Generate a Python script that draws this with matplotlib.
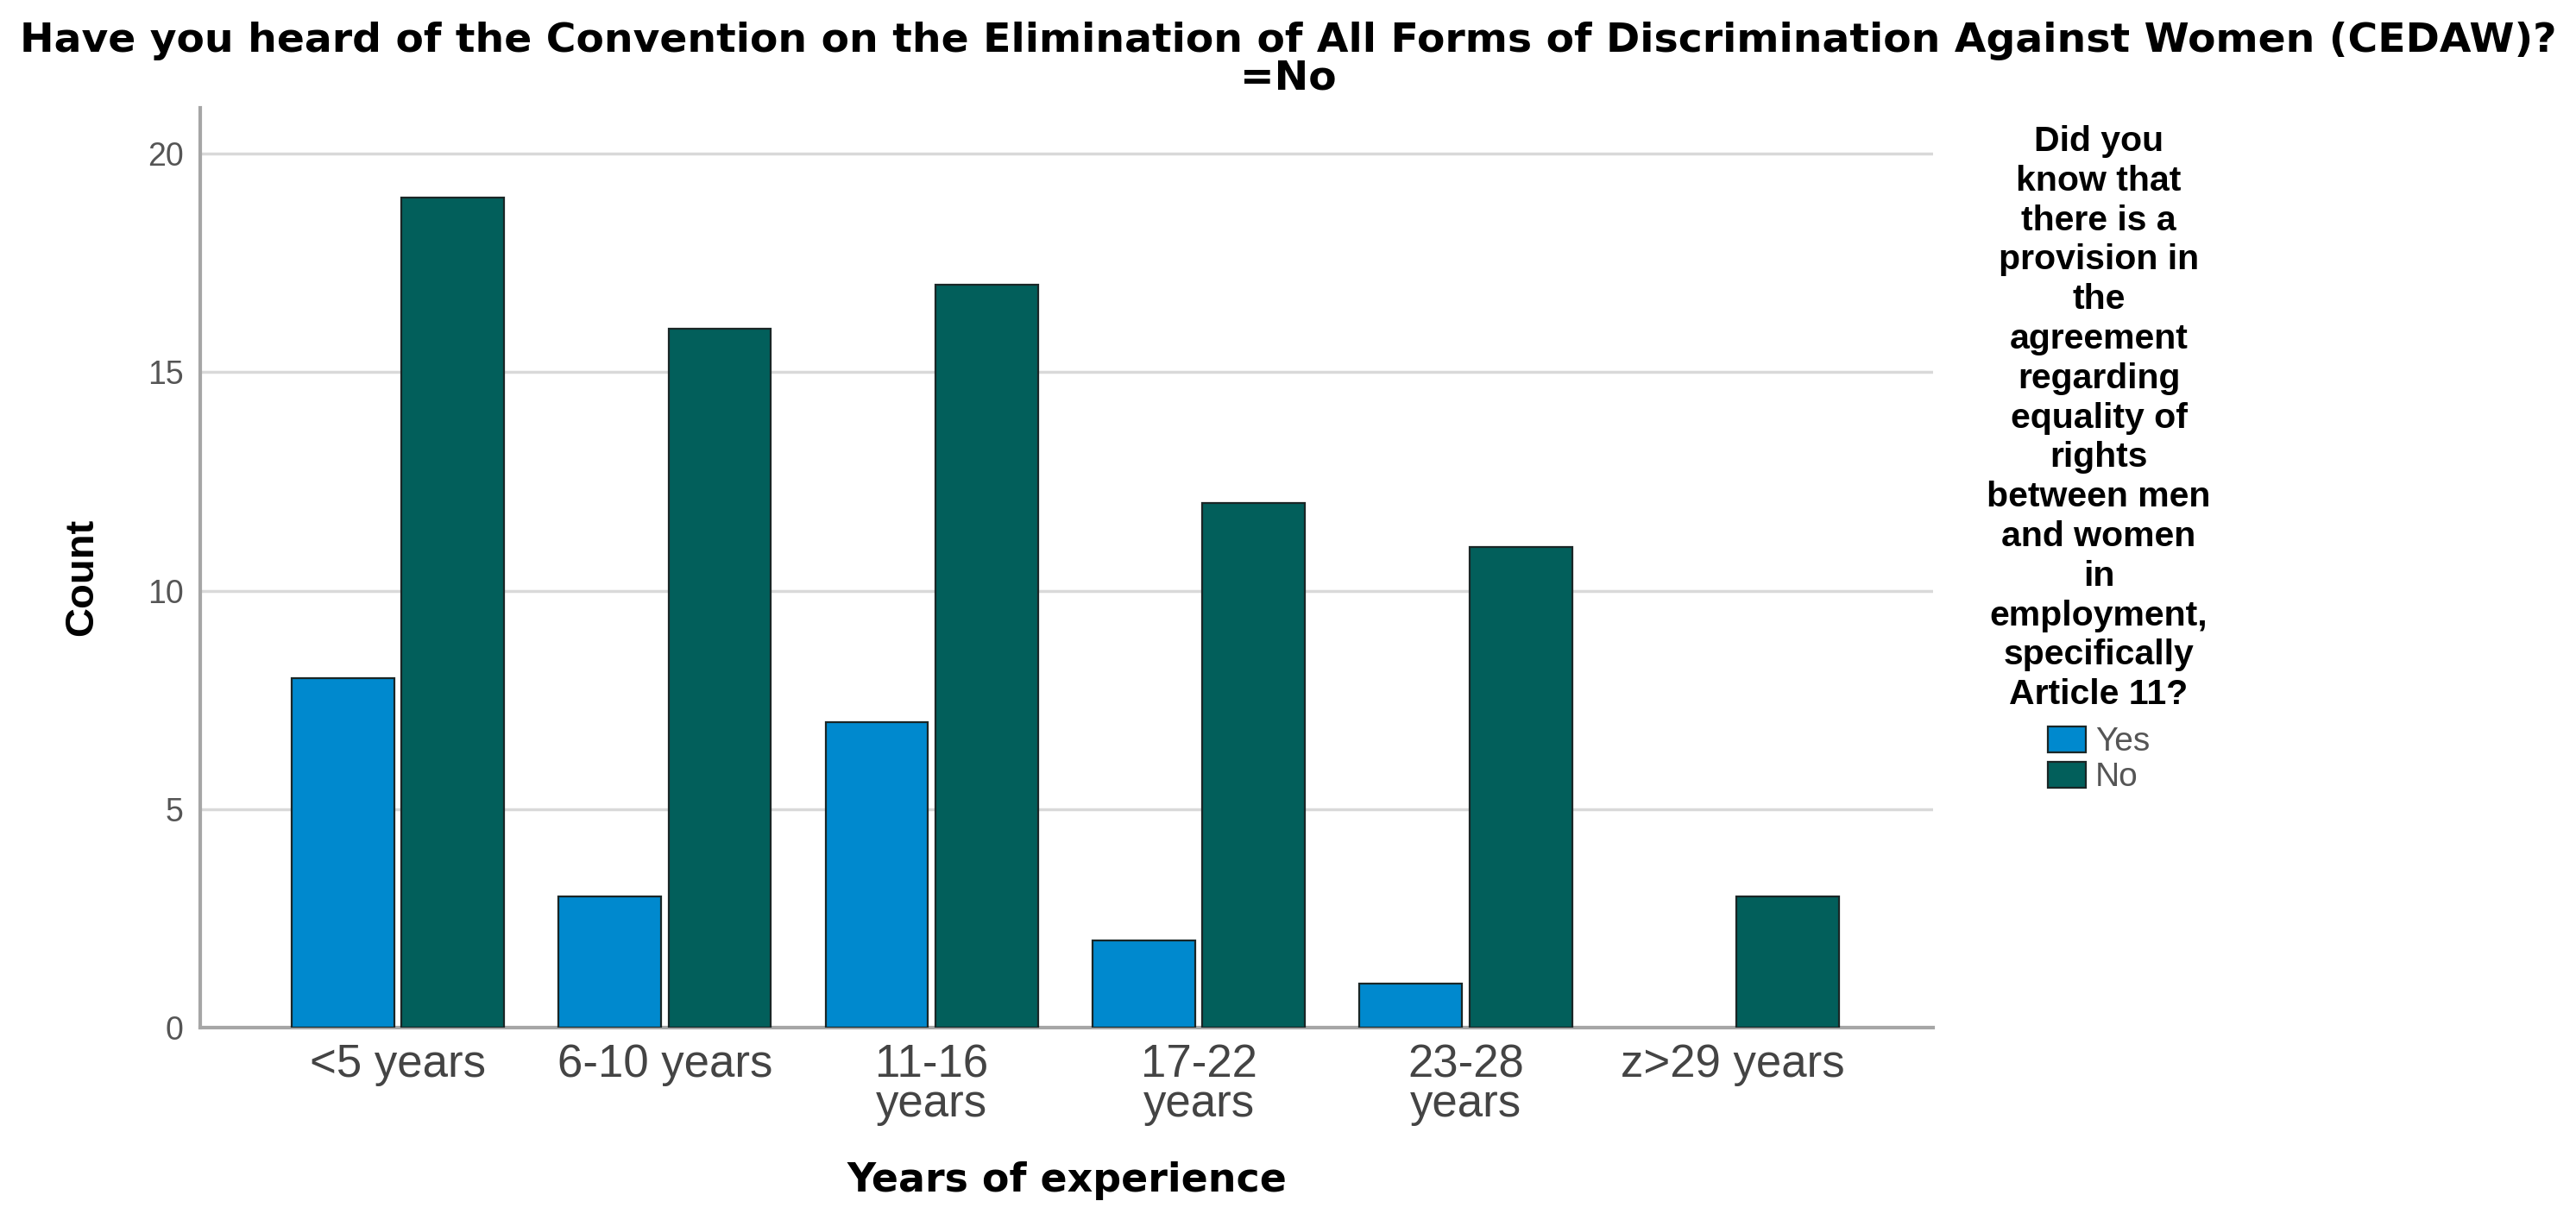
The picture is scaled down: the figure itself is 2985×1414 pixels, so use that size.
import numpy as np
import matplotlib
matplotlib.use("Agg")
import matplotlib.pyplot as plt
from matplotlib.patches import Patch

plt.rcParams['font.family'] = ['Liberation Sans', 'DejaVu Sans']

categories = ['<5 years', '6-10 years', '11-16\nyears', '17-22\nyears', '23-28\nyears', 'z>29 years']
yes_counts = [8, 3, 7, 2, 1, 0]
no_counts = [19, 16, 17, 12, 11, 3]
series_names = ['Yes', 'No']
colors = ['#0089CE', '#025F5B']

title_main = 'Have you heard of the Convention on the Elimination of All Forms of Discrimination Against Women (CEDAW)?'
title_sub = '=No'
legend_title = ('Did you\nknow that\nthere is a\nprovision in\nthe\nagreement\nregarding\nequality of\n'
                'rights\nbetween men\nand women\nin\nemployment,\nspecifically\nArticle 11?')

W, H = 2985, 1414
fig = plt.figure(figsize=(W / 100, H / 100), dpi=100)
ax = fig.add_axes([232 / W, 1 - 1191 / H, (2240 - 232) / W, (1191 - 125) / H])

x = np.arange(len(categories))
width = 0.384
offset = 0.206
edge = '#1a2626'
ax.bar(x - offset, yes_counts, width, color=colors[0], edgecolor=edge,
       linewidth=[1.6 if v > 0 else 0 for v in yes_counts], zorder=3)
ax.bar(x + offset, no_counts, width, color=colors[1], edgecolor=edge,
       linewidth=[1.6 if v > 0 else 0 for v in no_counts], zorder=3)

ax.set_xlim(-0.74, 5.75)
ax.set_ylim(0, 21.05)
ax.set_yticks([0, 5, 10, 15, 20])
ax.set_xticks(x)
ax.set_xticklabels(categories)
for lbl in ax.get_xticklabels():
    lbl.set_linespacing(0.89)

ax.set_axisbelow(True)
ax.yaxis.grid(True, color='#d9d9d9', linewidth=2.5)
ax.yaxis.get_gridlines()[0].set_visible(False)

for s in ['top', 'right']:
    ax.spines[s].set_visible(False)
for s in ['left', 'bottom']:
    ax.spines[s].set_color('#a6a6a6')
    ax.spines[s].set_linewidth(3)

ax.tick_params(axis='y', length=0, pad=14, labelsize=27, labelcolor='#555555')
ax.tick_params(axis='x', length=0, pad=13, labelsize=38, labelcolor='#444444')

ax.set_xlabel('Years of experience', fontsize=33, fontweight='bold', family='DejaVu Sans')
ax.xaxis.set_label_coords(0.5, -0.145)
ax.set_ylabel('Count', fontsize=34, fontweight='bold')
ax.yaxis.set_label_coords((95 - 232) / 2008, 0.49)
ax.yaxis.label.set_va('center')

fig.text(0.5, 1 - 60 / H, title_main, ha='center', va='baseline', fontsize=34,
         fontweight='bold', family='DejaVu Sans')
fig.text(0.5, 1 - 103 / H, title_sub, ha='center', va='baseline', fontsize=34,
         fontweight='bold', family='DejaVu Sans')

# legend title as its own text, entries centred below it
fig.text(2432 / W, 1 - 145 / H, legend_title, ha='center', va='top', fontsize=29.5,
         fontweight='bold', linespacing=1.26, multialignment='center')

handles = [Patch(facecolor=colors[i], edgecolor=edge, linewidth=1.6, label=series_names[i]) for i in range(2)]
leg = fig.legend(handles=handles, loc='upper center', bbox_to_anchor=(2432 / W, 1 - 842 / H),
                 frameon=False, fontsize=28, borderpad=0, borderaxespad=0,
                 handlelength=1.13, handleheight=0.8, handletextpad=0.3, labelspacing=0.12)
for t in leg.get_texts():
    t.set_color('#555555')

fig.savefig('out.png', dpi=100)
